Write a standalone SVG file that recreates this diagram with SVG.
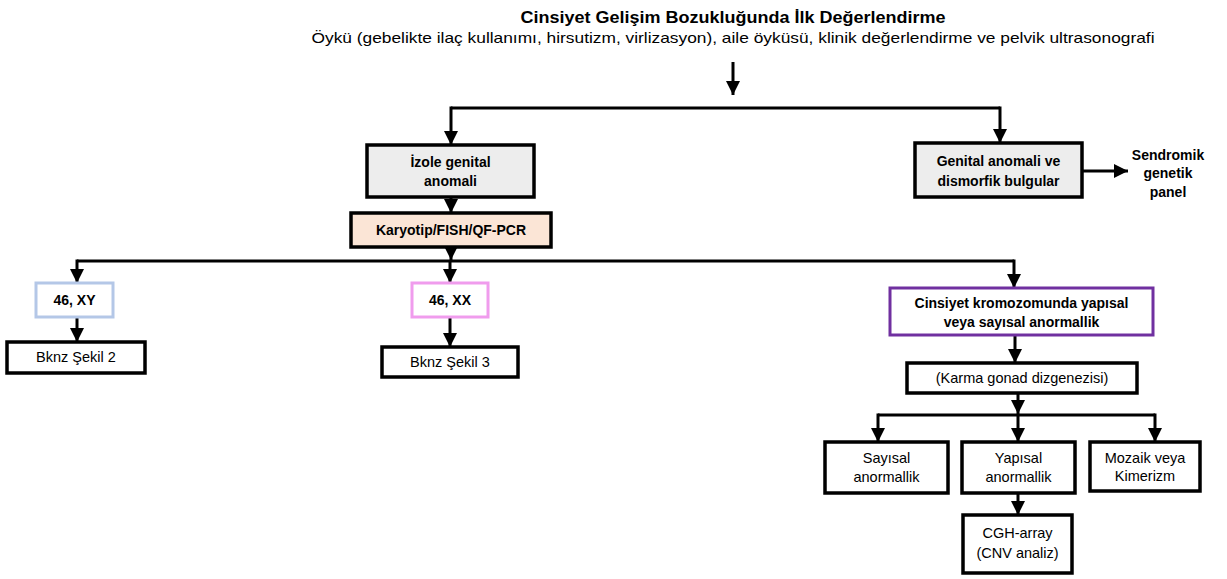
<svg xmlns="http://www.w3.org/2000/svg" width="1227" height="579" viewBox="0 0 1227 579">
  <style>
    text { font-family: "Liberation Sans", Arial, sans-serif; fill: #000; text-anchor: middle; }
    .b { font-weight: bold; font-size: 14px; }
    .n { font-size: 14.5px; }
    .box { stroke: #000; stroke-width: 3.5; fill: #fff; }
    .grey { fill: #ededed; }
    .peach { fill: #fbe5d6; }
    .line { stroke: #000; stroke-width: 3; fill: none; }
    .arr { stroke: #000; stroke-width: 3; fill: none; marker-end: url(#ah); }
  </style>
  <defs>
    <marker id="ah" viewBox="0 0 10 10" refX="10" refY="5" markerUnits="userSpaceOnUse" markerWidth="14" markerHeight="14" orient="auto">
      <path d="M0,0 L10,5 L0,10 z" fill="#000"/>
    </marker>
  </defs>

  <!-- heading -->
  <g id="heading">
    <text x="733" y="23" font-size="16.5" font-weight="bold" textLength="425" lengthAdjust="spacingAndGlyphs">Cinsiyet Gelişim Bozukluğunda İlk Değerlendirme</text>
    <text x="733" y="43" font-size="14.5" textLength="843" lengthAdjust="spacingAndGlyphs">Öykü (gebelikte ilaç kullanımı, hirsutizm, virlizasyon), aile öyküsü, klinik değerlendirme ve pelvik ultrasonografi</text>
  </g>

  <!-- connectors -->
  <g id="connectors">
    <path class="arr" d="M733,62 V95"/>
    <path class="line" d="M451,108 H1000"/>
    <path class="arr" d="M451,106.5 V145"/>
    <path class="arr" d="M1000,106.5 V143"/>
    <path class="arr" d="M451,197 V213"/>
    <path class="arr" d="M1082,171 H1128"/>
    <path class="arr" d="M451,247 V260"/>
    <path class="line" d="M77,261 H1014"/>
    <path class="arr" d="M77,259.5 V283"/>
    <path class="arr" d="M450,261 V283"/>
    <path class="arr" d="M1014,259.5 V288"/>
    <path class="arr" d="M77,317 V342"/>
    <path class="arr" d="M450,317 V347"/>
    <path class="arr" d="M1015,335 V363"/>
    <path class="arr" d="M1018,393 V414"/>
    <path class="line" d="M878,415 H1155"/>
    <path class="arr" d="M878,413.5 V442"/>
    <path class="arr" d="M1018,415 V442"/>
    <path class="arr" d="M1155,413.5 V442"/>
    <path class="arr" d="M1018,493 V515"/>
  </g>

  <g id="izole">
    <rect class="box grey" x="367" y="145" width="167" height="52"/>
    <text class="b" x="450.5" y="167">İzole genital</text>
    <text class="b" x="450.5" y="186">anomali</text>
  </g>

  <g id="karyotip">
    <rect class="box peach" x="351" y="213" width="200" height="34"/>
    <text class="b" x="451" y="235" font-size="14.5">Karyotip/FISH/QF-PCR</text>
  </g>

  <g id="genital-dismorfik">
    <rect class="box grey" x="915" y="143" width="167" height="54"/>
    <text class="b" x="998.5" y="166">Genital anomali ve</text>
    <text class="b" x="998.5" y="186">dismorfik bulgular</text>
  </g>

  <g id="sendromik">
    <text class="b" x="1168" y="160">Sendromik</text>
    <text class="b" x="1168" y="178">genetik</text>
    <text class="b" x="1168" y="197">panel</text>
  </g>

  <g id="xy">
    <rect x="36" y="283" width="77" height="34" fill="#fff" stroke="#b4c7e7" stroke-width="3"/>
    <text class="b" x="74.5" y="305">46, XY</text>
  </g>

  <g id="xx">
    <rect x="412" y="283" width="76" height="34" fill="#fff" stroke="#f09ced" stroke-width="3"/>
    <text class="b" x="450" y="305">46, XX</text>
  </g>

  <g id="sekil2">
    <rect class="box" x="7" y="342" width="138" height="31"/>
    <text class="n" x="76" y="362">Bknz Şekil 2</text>
  </g>

  <g id="sekil3">
    <rect class="box" x="382" y="347" width="136" height="30"/>
    <text class="n" x="450" y="367">Bknz Şekil 3</text>
  </g>

  <g id="cinsiyet-kromozom">
    <rect x="890" y="288" width="263" height="47" fill="#fff" stroke="#7030a0" stroke-width="3"/>
    <text class="b" x="1021.5" y="308" font-size="13.5">Cinsiyet kromozomunda yapısal</text>
    <text class="b" x="1021.5" y="327" font-size="13.5">veya sayısal anormallik</text>
  </g>

  <g id="karma">
    <rect class="box" x="907" y="363" width="230" height="30"/>
    <text class="n" x="1022" y="383" font-size="15.5">(Karma gonad dizgenezisi)</text>
  </g>

  <g id="sayisal">
    <rect class="box" x="825" y="442" width="123" height="51"/>
    <text class="n" x="886.5" y="463">Sayısal</text>
    <text class="n" x="886.5" y="482">anormallik</text>
  </g>

  <g id="yapisal">
    <rect class="box" x="962" y="442" width="113" height="51"/>
    <text class="n" x="1018.5" y="463">Yapısal</text>
    <text class="n" x="1018.5" y="482">anormallik</text>
  </g>

  <g id="mozaik">
    <rect class="box" x="1090" y="442" width="110" height="49"/>
    <text class="n" x="1145" y="463">Mozaik veya</text>
    <text class="n" x="1145" y="481">Kimerizm</text>
  </g>

  <g id="cgh">
    <rect class="box" x="963" y="515" width="109" height="58"/>
    <text class="n" x="1017.5" y="538">CGH-array</text>
    <text class="n" x="1017.5" y="558">(CNV analiz)</text>
  </g>
</svg>
